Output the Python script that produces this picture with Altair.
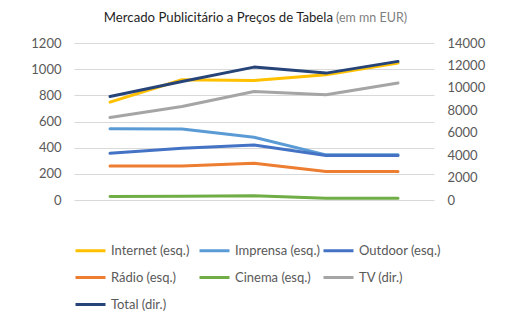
import altair as alt
import pandas as pd

years = ["2017", "2018", "2019", "2020", "2021"]
internet = [748, 919, 914, 957, 1047]
imprensa = [544, 543, 480, 345, 345]
outdoor = [357, 396, 421, 340, 340]
radio = [260, 260, 281, 217, 217]
cinema = [26, 28, 33, 13, 13]
tv = [7355, 8337, 9677, 9380, 10425]
total = [9230, 10570, 11850, 11315, 12360]

left_names = ["Internet (esq.)", "Imprensa (esq.)", "Outdoor (esq.)", "Rádio (esq.)", "Cinema (esq.)"]
right_names = ["TV (dir.)", "Total (dir.)"]
all_names = left_names + right_names
colors = ["#FFC000", "#5B9BD5", "#4472C4", "#ED7D31", "#70AD47", "#A5A5A5", "#264478"]
left_ticks = [0, 200, 400, 600, 800, 1000, 1200]
right_ticks = [0, 2000, 4000, 6000, 8000, 10000, 12000, 14000]
title_main = ["Mercado Publicitário a Preços de Tabela"]
title_unit = ["(em mn EUR)"]

left_rows = []
for name, vals in zip(left_names, [internet, imprensa, outdoor, radio, cinema]):
    for y, v in zip(years, vals):
        left_rows.append({"ano": y, "serie": name, "v": v})
right_rows = []
for name, vals in zip(right_names, [tv, total]):
    for y, v in zip(years, vals):
        right_rows.append({"ano": y, "serie": name, "v": v})
left_df = pd.DataFrame(left_rows)
right_df = pd.DataFrame(right_rows)

FONT = "Lato"
LABEL = "#595959"

legend = alt.Legend(
    title=None, orient="none", legendX=0, legendY=191, columns=3, direction="horizontal",
    symbolType="stroke", symbolSize=900, symbolStrokeWidth=3,
    labelFontSize=13, labelColor=LABEL, labelFont=FONT, labelOffset=4,
    gridAlign="all", columnPadding=-3, rowPadding=3,
)
color = alt.Color("serie:N", sort=all_names,
                  scale=alt.Scale(domain=all_names, range=colors), legend=legend)
xenc = alt.X("ano:O", sort=years, scale=alt.Scale(type="point", padding=0.5),
             axis=alt.Axis(title=None, labelAngle=0, domain=False, ticks=False, grid=False,
                           labelPadding=11, labelFontSize=13, labelColor=LABEL, labelFont=FONT))

left = alt.Chart(left_df).mark_line(strokeWidth=3, strokeCap="round", strokeJoin="round").encode(
    x=xenc,
    y=alt.Y("v:Q", scale=alt.Scale(domain=[0, 1200]),
            axis=alt.Axis(title=None, orient="left", values=left_ticks, format="d", grid=True,
                          gridColor="#D9D9D9", domain=False, ticks=False, labelPadding=13,
                          labelFontSize=13, labelColor=LABEL, labelFont=FONT)),
    color=color,
)
right = alt.Chart(right_df).mark_line(strokeWidth=3, strokeCap="round", strokeJoin="round").encode(
    x=alt.X("ano:O", sort=years, scale=alt.Scale(type="point", padding=0.5), axis=None),
    y=alt.Y("v:Q", scale=alt.Scale(domain=[0, 14000]),
            axis=alt.Axis(title=None, orient="right", values=right_ticks, format="d", grid=False,
                          domain=False, ticks=False, labelPadding=13, labelFontSize=13,
                          labelColor=LABEL, labelFont=FONT)),
    color=color,
)
t_main = alt.Chart(pd.DataFrame({"t": title_main})).mark_text(
    align="right", baseline="alphabetic", font=FONT, fontSize=13.2, color="#1F1F1F"
).encode(x=alt.value(259), y=alt.value(-21), text="t:N")
t_unit = alt.Chart(pd.DataFrame({"t": title_unit})).mark_text(
    align="left", baseline="alphabetic", font=FONT, fontSize=12.5, color="#7F7F7F"
).encode(x=alt.value(262), y=alt.value(-21), text="t:N")

chart = alt.layer(left, right, t_main, t_unit).resolve_scale(y="independent").properties(
    width=360, height=157,
    autosize=alt.AutoSizeParams(type="none"),
    padding={"left": 74, "top": 43, "right": 72, "bottom": 124},
).configure_view(stroke=None)

chart.save("out.html", embed_options={"renderer": "svg", "actions": False})
